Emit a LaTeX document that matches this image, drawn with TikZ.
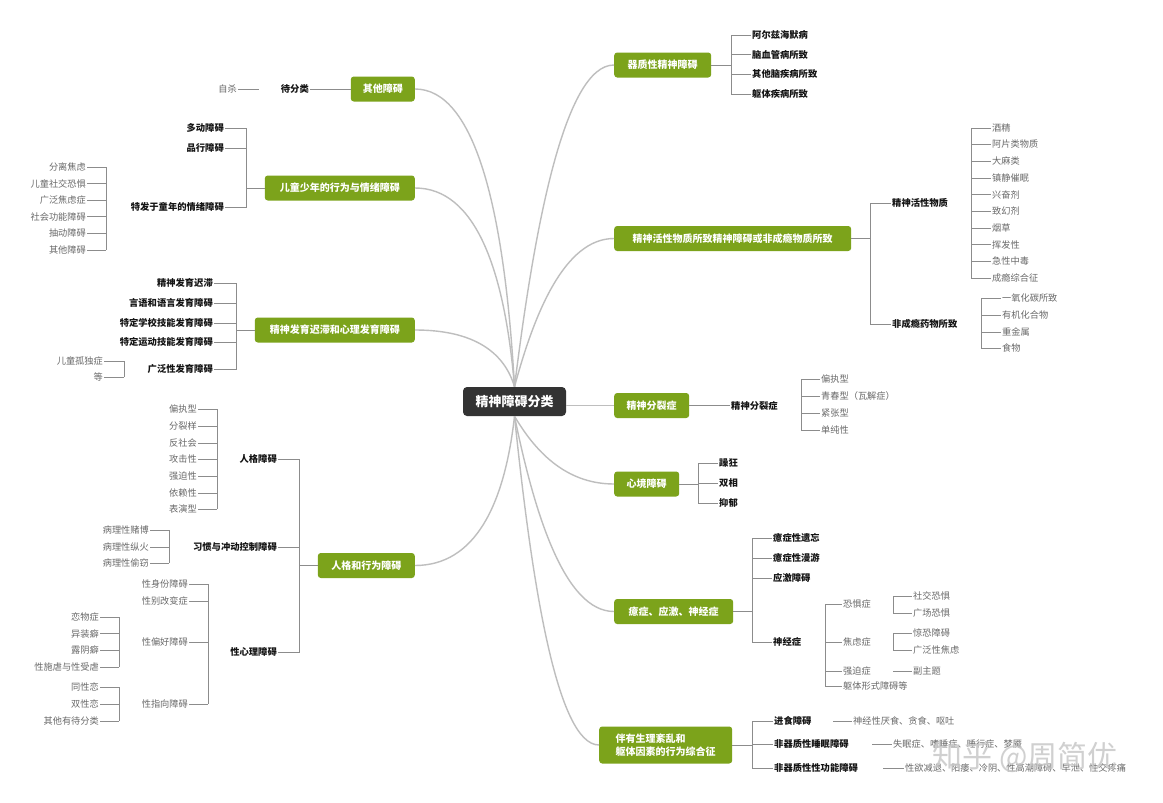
\documentclass[tikz,border=0pt]{standalone}
\usepackage{fontspec}
\setmainfont{Noto Sans CJK SC}
\definecolor{grn}{RGB}{124,163,27}
\definecolor{darkbox}{RGB}{51,51,51}
\definecolor{curvegray}{RGB}{190,190,190}
\definecolor{brgray}{RGB}{140,140,140}
\definecolor{leafgray}{RGB}{105,105,105}
\definecolor{subtext}{RGB}{20,20,20}
\definecolor{wmgray}{RGB}{200,200,200}
\begin{document}
\begin{tikzpicture}[x=1pt,y=-1pt,
  cat/.style={fill=grn,text=white,font=\bfseries\fontsize{10}{12.5}\selectfont,rounded corners=3pt,inner xsep=12pt,inner ysep=0pt,minimum height=25pt},
  rootbox/.style={fill=darkbox,text=white,font=\bfseries\fontsize{13}{15}\selectfont,rounded corners=4pt,inner xsep=12.5pt,inner ysep=0pt,minimum height=29pt,minimum width=103pt},
  sub/.style={font=\bfseries\fontsize{9.3}{11}\selectfont,text=subtext,inner sep=1pt},
  leaf/.style={font=\fontsize{9.2}{11}\selectfont,text=leafgray,inner sep=1pt},
  trunk/.style={draw=curvegray,line width=1.4pt},
  br/.style={draw=brgray,line width=0.9pt}]
\useasboundingbox (0,0) rectangle (1163,803);
\fill[white] (0,0) rectangle (1163,803);

% root
\node[rootbox] (root) at (514.5,401.5) {精神障碍分类};

% ---------- right categories ----------
\node[cat,anchor=west,minimum width=97pt] (c1) at (614,65) {器质性精神障碍};
\node[cat,anchor=west,minimum width=237pt] (c2) at (614,238.5) {精神活性物质所致精神障碍或非成瘾物质所致};
\node[cat,anchor=west,minimum width=75pt] (c3) at (614,405.5) {精神分裂症};
\node[cat,anchor=west,minimum width=65pt] (c4) at (614,484) {心境障碍};
\node[cat,anchor=west,minimum width=119pt] (c5) at (614,611.5) {癔症、应激、神经症};
\node[cat,anchor=west,minimum width=133pt,minimum height=37pt,align=left] (c6) at (599,745) {伴有生理紊乱和\\躯体因素的行为综合征};

% ---------- left categories ----------
\node[cat,anchor=east,minimum width=64pt] (c7) at (415,89) {其他障碍};
\node[cat,anchor=east,minimum width=150pt] (c8) at (415,188) {儿童少年的行为与情绪障碍};
\node[cat,anchor=east,minimum width=160pt] (c9) at (415,330) {精神发育迟滞和心理发育障碍};
\node[cat,anchor=east,minimum width=97pt] (c10) at (415,565.5) {人格和行为障碍};

% ---------- trunk curves ----------
\draw[trunk] (root.north) .. controls (534.4,226) and (564.8,65) .. (c1.west);
\draw[trunk] (root.north) .. controls (534.4,312.75) and (564.8,238.5) .. (c2.west);
\draw[trunk] (root.east |- c3.west) -- (c3.west);
\draw[trunk] (root.south) .. controls (534.4,450) and (564.8,484) .. (c4.west);
\draw[trunk] (root.south) .. controls (534.4,513.75) and (564.8,611.5) .. (c5.west);
\draw[trunk] (root.south) .. controls (531.4,580.5) and (556.75,745) .. (c6.west);
\draw[trunk] (root.north) .. controls (504.5,208.2) and (474.7,89) .. (c7.east);
\draw[trunk] (root.north) .. controls (504.5,267.6) and (474.7,188) .. (c8.east);
\draw[trunk] (root.north) .. controls (504.5,352.8) and (474.7,330) .. (c9.east);
\draw[trunk] (root.south) .. controls (504.5,505.7) and (474.7,565.5) .. (c10.east);

% ---------- c1 ----------
\node[sub,anchor=west] (c1a) at (751,35) {阿尔兹海默病};
\node[sub,anchor=west] (c1b) at (751,54.5) {脑血管病所致};
\node[sub,anchor=west] (c1c) at (751,74) {其他脑疾病所致};
\node[sub,anchor=west] (c1d) at (751,94) {躯体疾病所致};
\coordinate (b1) at (731,65);
\draw[br] (c1.east) -- (b1);
\foreach \n in {c1a,c1b,c1c,c1d} \draw[br] (b1) |- (\n.west);

% ---------- c2 ----------
\node[sub,anchor=west] (c2a) at (891,203) {精神活性物质};
\node[sub,anchor=west] (c2b) at (891,324) {非成瘾药物所致};
\coordinate (b2) at (870,238.5);
\draw[br] (c2.east) -- (b2);
\foreach \n in {c2a,c2b} \draw[br] (b2) |- (\n.west);
\foreach \i/\t/\y in {1/酒精/128,2/阿片类物质/144.5,3/大麻类/161,4/镇静催眠/178,5/兴奋剂/194.5,6/致幻剂/211,7/烟草/228,8/挥发性/244.5,9/急性中毒/261,10/成瘾综合征/278}
  \node[leaf,anchor=west] (pa\i) at (991,\y) {\t};
\coordinate (b2a) at (971,0);
\draw[br] (pa1.west -| b2a) -- (pa10.west -| b2a);
\foreach \i in {1,...,10} \draw[br] (pa\i.west -| b2a) -- (pa\i.west);
\foreach \i/\t/\y in {1/一氧化碳所致/298,2/有机化合物/315,3/重金属/332,4/食物/348}
  \node[leaf,anchor=west] (pb\i) at (1001,\y) {\t};
\coordinate (b2b) at (981,0);
\draw[br] (pb1.west -| b2b) -- (pb4.west -| b2b);
\foreach \i in {1,...,4} \draw[br] (pb\i.west -| b2b) -- (pb\i.west);

% ---------- c3 ----------
\node[sub,anchor=west] (c3a) at (730,405.5) {精神分裂症};
\draw[br] (c3.east) -- (c3a.west);
\foreach \i/\t/\y in {1/偏执型/379,2/青春型（瓦解症）/396,3/紧张型/413,4/单纯性/430}
  \node[leaf,anchor=west] (s\i) at (820,\y) {\t};
\coordinate (b3a) at (801,0);
\draw[br] (s1.west -| b3a) -- (s4.west -| b3a);
\foreach \i in {1,...,4} \draw[br] (s\i.west -| b3a) -- (s\i.west);

% ---------- c4 ----------
\node[sub,anchor=west] (c4a) at (718,463) {躁狂};
\node[sub,anchor=west] (c4b) at (718,483) {双相};
\node[sub,anchor=west] (c4c) at (718,503) {抑郁};
\coordinate (b4) at (698,484);
\draw[br] (c4.east) -- (b4);
\foreach \n in {c4a,c4b,c4c} \draw[br] (b4) |- (\n.west);

% ---------- c5 ----------
\node[sub,anchor=west] (c5a) at (772,538) {癔症性遗忘};
\node[sub,anchor=west] (c5b) at (772,558) {癔症性漫游};
\node[sub,anchor=west] (c5c) at (772,578) {应激障碍};
\node[sub,anchor=west] (c5d) at (772,642) {神经症};
\coordinate (b5) at (752,611.5);
\draw[br] (c5.east) -- (b5);
\foreach \n in {c5a,c5b,c5c,c5d} \draw[br] (b5) |- (\n.west);
\foreach \i/\t/\y in {1/恐惧症/604,2/焦虑症/642,3/强迫症/671,4/躯体形式障碍等/686}
  \node[leaf,anchor=west] (n\i) at (842,\y) {\t};
\coordinate (b5a) at (825,0);
\draw[br] (n1.west -| b5a) -- (n4.west -| b5a);
\foreach \i in {1,...,4} \draw[br] (n\i.west -| b5a) -- (n\i.west);
\node[leaf,anchor=west] (f1) at (912,596) {社交恐惧};
\node[leaf,anchor=west] (f2) at (912,613) {广场恐惧};
\node[leaf,anchor=west] (a1) at (912,633) {惊恐障碍};
\node[leaf,anchor=west] (a2) at (912,650) {广泛性焦虑};
\node[leaf,anchor=west] (o1) at (912,671) {副主题};
\coordinate (b5b) at (893,0);
\draw[br] (f1.west -| b5b) -- (f2.west -| b5b);
\draw[br] (a1.west -| b5b) -- (a2.west -| b5b);
\foreach \n in {f1,f2,a1,a2,o1} \draw[br] (\n.west -| b5b) -- (\n.west);

% ---------- c6 ----------
\node[sub,anchor=west] (c6a) at (773,721) {进食障碍};
\node[sub,anchor=west] (c6b) at (773,744) {非器质性睡眠障碍};
\node[sub,anchor=west] (c6c) at (773,768) {非器质性性功能障碍};
\coordinate (b6) at (752,745);
\draw[br] (c6.east) -- (b6);
\foreach \n in {c6a,c6b,c6c} \draw[br] (b6) |- (\n.west);
\node[leaf,anchor=west] (d1) at (852,721) {神经性厌食、贪食、呕吐};
\node[leaf,anchor=west] (d2) at (892,744) {失眠症、嗜睡症、睡行症、梦魇};
\node[leaf,anchor=west] (d3) at (904,768) {性欲减退、阳痿、冷阴、性高潮障碍、早泄、性交疼痛};
\coordinate (d1s) at (833,721);
\coordinate (d2s) at (872,744);
\coordinate (d3s) at (883,768);
\draw[br] (d1s) -- (d1.west);
\draw[br] (d2s) -- (d2.west);
\draw[br] (d3s) -- (d3.west);

% ---------- c7 ----------
\node[sub,anchor=east] (c7a) at (310,89) {待分类};
\draw[br] (c7.west) -- (c7a.east);
\node[leaf,anchor=east] (c7b) at (238,89) {自杀};
\coordinate (c7bs) at (259,89);
\draw[br] (c7b.east) -- (c7bs);

% ---------- c8 ----------
\node[sub,anchor=east] (c8a) at (225,128) {多动障碍};
\node[sub,anchor=east] (c8b) at (225,148) {品行障碍};
\node[sub,anchor=east] (c8c) at (225,207) {特发于童年的情绪障碍};
\coordinate (b8) at (246,188);
\draw[br] (c8.west) -- (b8);
\foreach \n in {c8a,c8b,c8c} \draw[br] (b8) |- (\n.east);
\foreach \i/\t/\y in {1/分离焦虑/167,2/儿童社交恐惧/183.5,3/广泛焦虑症/200,4/社会功能障碍/216.5,5/抽动障碍/233,6/其他障碍/250}
  \node[leaf,anchor=east] (e\i) at (87,\y) {\t};
\coordinate (b8a) at (106,0);
\draw[br] (e1.east -| b8a) -- (e6.east -| b8a);
\foreach \i in {1,...,6} \draw[br] (e\i.east) -- (e\i.east -| b8a);

% ---------- c9 ----------
\foreach \i/\t/\y in {1/精神发育迟滞/283,2/言语和语言发育障碍/303,3/特定学校技能发育障碍/323,4/特定运动技能发育障碍/342,5/广泛性发育障碍/369}
  \node[sub,anchor=east] (g\i) at (214,\y) {\t};
\coordinate (b9) at (236,330);
\draw[br] (c9.west) -- (b9);
\foreach \i in {1,...,5} \draw[br] (b9) |- (g\i.east);
\node[leaf,anchor=east] (k1) at (104,361) {儿童孤独症};
\node[leaf,anchor=east] (k2) at (104,377) {等};
\coordinate (b9a) at (124,0);
\draw[br] (k1.east -| b9a) -- (k2.east -| b9a);
\foreach \n in {k1,k2} \draw[br] (\n.east) -- (\n.east -| b9a);

% ---------- c10 ----------
\node[sub,anchor=east] (c10a) at (278,459) {人格障碍};
\node[sub,anchor=east] (c10b) at (278,547) {习惯与冲动控制障碍};
\node[sub,anchor=east] (c10c) at (278,652) {性心理障碍};
\coordinate (b10) at (299,565.5);
\draw[br] (c10.west) -- (b10);
\foreach \n in {c10a,c10b,c10c} \draw[br] (b10) |- (\n.east);
\foreach \i/\t/\y in {1/偏执型/409,2/分裂样/426,3/反社会/443,4/攻击性/459,5/强迫性/476,6/依赖性/493,7/表演型/509}
  \node[leaf,anchor=east] (p\i) at (198,\y) {\t};
\coordinate (b10a) at (217,0);
\draw[br] (p1.east -| b10a) -- (p7.east -| b10a);
\foreach \i in {1,...,7} \draw[br] (p\i.east) -- (p\i.east -| b10a);
\foreach \i/\t/\y in {1/病理性赌博/530,2/病理性纵火/547,3/病理性偷窃/563}
  \node[leaf,anchor=east] (h\i) at (150,\y) {\t};
\coordinate (b10b) at (169,0);
\draw[br] (h1.east -| b10b) -- (h3.east -| b10b);
\foreach \i in {1,...,3} \draw[br] (h\i.east) -- (h\i.east -| b10b);
\foreach \i/\t/\y in {1/性身份障碍/584,2/性别改变症/601,3/性偏好障碍/642,4/性指向障碍/704}
  \node[leaf,anchor=east] (x\i) at (189,\y) {\t};
\coordinate (b10c) at (208,0);
\draw[br] (x1.east -| b10c) -- (x4.east -| b10c);
\foreach \i in {1,...,4} \draw[br] (x\i.east) -- (x\i.east -| b10c);
\foreach \i/\t/\y in {1/恋物症/617,2/异装癖/633.5,3/露阴癖/650,4/性施虐与性受虐/667}
  \node[leaf,anchor=east] (y\i) at (100,\y) {\t};
\foreach \i/\t/\y in {1/同性恋/687,2/双性恋/704,3/其他有待分类/721}
  \node[leaf,anchor=east] (z\i) at (100,\y) {\t};
\coordinate (b10d) at (119,0);
\draw[br] (y1.east -| b10d) -- (y4.east -| b10d);
\draw[br] (z1.east -| b10d) -- (z3.east -| b10d);
\foreach \i in {1,...,4} \draw[br] (y\i.east) -- (y\i.east -| b10d);
\foreach \i in {1,...,3} \draw[br] (z\i.east) -- (z\i.east -| b10d);

% ---------- watermark ----------
\node[text=wmgray,opacity=0.85,font=\fontsize{30}{32}\selectfont,inner sep=0pt] (wm) at (1025,757) {知乎 @周简优};
\end{tikzpicture}
\end{document}
